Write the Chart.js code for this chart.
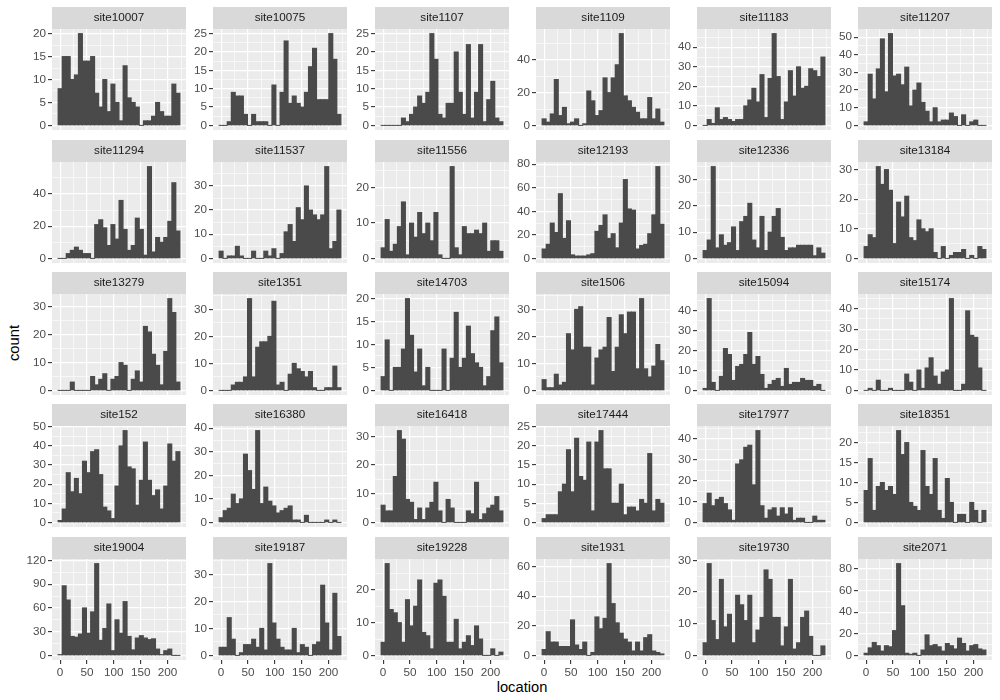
<!DOCTYPE html>
<html lang="en">
<head>
<meta charset="UTF-8">
<title>location by site</title>
<script src="https://cdn.jsdelivr.net/npm/chart.js@4.4.1/dist/chart.umd.min.js"></script>
<style>
    body {
        margin: 0;
        background: #ffffff;
        font-family: 'Liberation Sans', Arial, sans-serif;
    }
    #wrap {
        position: relative;
        width: 1000px;
        height: 700px;
        overflow: hidden;
    }
    #wrap canvas {
        position: absolute;
    }
    .axis-title {
        position: absolute;
        font-size: 14.7px;
        color: #000000;
        white-space: nowrap;
    }
    #xtitle {
        left: 472px;
        width: 100px;
        top: 679px;
        text-align: center;
    }
    #ytitle {
        left: -36px;
        width: 100px;
        top: 335px;
        text-align: center;
        transform: rotate(-90deg);
    }
</style>
</head>
<body>
<div id="wrap">
    <div id="xtitle" class="axis-title">location</div>
    <div id="ytitle" class="axis-title">count</div>
</div>

<script>
    // bins (30 bins, shared by every facet)
    const binMids = [0, 7.56, 15.12, 22.68, 30.24, 37.8, 45.36, 52.92, 60.48, 68.04,
                     75.6, 83.16, 90.72, 98.28, 105.84, 113.4, 120.96, 128.52, 136.08, 143.64,
                     151.2, 158.76, 166.32, 173.88, 181.44, 189.0, 196.56, 204.12, 211.68, 219.24];
    const xMajor = [0, 50, 100, 150, 200];
    const xMinor = [25, 75, 125, 175, 225];
    const xLimits = [-15.1, 234.3];

    const sites = [
        'site10007', 'site10075', 'site1107', 'site1109', 'site11183', 'site11207',
        'site11294', 'site11537', 'site11556', 'site12193', 'site12336', 'site13184',
        'site13279', 'site1351', 'site14703', 'site1506', 'site15094', 'site15174',
        'site152', 'site16380', 'site16418', 'site17444', 'site17977', 'site18351',
        'site19004', 'site19187', 'site19228', 'site1931', 'site19730', 'site2071'
    ];
    // major break spacing on each y axis
    const yStep = [5, 5, 5, 20, 10, 10,
                   20, 10, 10, 20, 10, 10,
                   10, 10, 5, 10, 10, 10,
                   10, 10, 10, 5, 10, 5,
                   30, 10, 10, 20, 10, 20];

    // counts per bin
    const site10007 = [8,15,15,10,11,20,14,14,15,7,4,10,3,9,5,1,13,6,5,4,0,1,1,2,5,3,2,2,9,7];
    const site10075 = [0,0,1,9,8,8,3,0,3,1,1,1,0,11,0,9,23,6,8,6,5,9,16,21,7,7,7,25,18,3];
    const site1107  = [0,0,0,0,0,2,1,3,5,8,6,9,25,18,3,2,6,6,20,9,3,22,2,9,22,1,7,12,2,1];
    const site1109  = [4,2,7,28,6,11,1,2,4,0,1,21,15,6,9,29,20,29,37,56,18,15,11,8,4,4,17,4,10,2];
    const site11183 = [0,3,1,9,3,4,3,2,3,3,10,13,19,12,26,4,24,47,25,3,12,28,15,30,19,20,29,28,25,35];
    const site11207 = [2,29,15,32,49,19,52,28,29,23,33,11,20,24,13,8,2,10,2,3,3,7,5,0,6,0,2,3,0,0];

    const site11294 = [0,0,3,5,7,5,3,3,0,21,24,19,8,21,12,36,18,5,8,25,18,2,57,4,13,10,13,23,47,17];
    const site11537 = [3,0,1,1,5,1,0,0,3,0,0,3,1,4,0,2,11,14,7,21,16,30,20,18,16,18,38,4,7,20];
    const site11556 = [3,11,2,4,9,16,1,10,6,13,7,10,5,13,1,0,0,26,3,1,9,7,7,8,7,10,2,5,5,2];
    const site12193 = [8,12,30,22,55,17,32,3,2,2,2,3,4,23,28,37,17,21,9,30,67,42,41,8,11,12,21,37,78,29];
    const site12336 = [3,7,35,4,9,5,6,12,3,14,16,21,7,4,16,3,10,16,19,8,3,4,4,5,5,5,5,1,4,2];
    const site13184 = [4,8,7,31,25,30,23,5,19,14,21,7,6,13,10,9,10,2,0,4,0,1,2,2,3,0,1,0,4,3];

    const site13279 = [0,0,0,3,0,0,0,0,5,2,4,6,0,4,5,10,9,0,4,7,3,23,21,13,9,2,14,33,28,3];
    const site1351  = [0,0,0,2,3,3,5,34,5,16,18,18,20,33,2,3,0,6,10,8,7,5,7,1,0,0,1,1,9,1];
    const site14703 = [3,11,0,5,5,9,20,12,4,9,1,5,0,0,0,9,0,7,17,5,7,14,8,6,5,1,3,13,16,6];
    const site1506  = [4,1,1,6,2,3,21,15,30,31,16,16,2,12,15,16,27,7,16,28,21,29,29,8,34,8,5,9,17,11];
    const site15094 = [1,46,4,0,7,21,18,5,12,13,18,29,13,17,8,1,3,5,6,2,11,3,4,4,6,5,5,2,3,0];
    const site15174 = [0,1,0,5,0,0,1,0,0,0,8,4,0,10,1,11,16,7,3,9,10,45,0,0,3,39,27,26,11,0];

    const site152   = [1,7,26,16,23,15,32,26,37,38,25,8,6,2,19,40,48,29,28,9,22,42,22,14,17,7,19,41,32,37];
    const site16380 = [2,5,6,12,8,10,29,22,14,39,8,15,9,7,4,5,6,7,1,1,0,3,0,0,0,0,1,0,1,0];
    const site16418 = [6,4,4,16,32,29,8,7,1,5,1,5,7,14,4,0,8,5,0,0,0,4,3,14,1,3,5,6,9,4];
    const site17444 = [1,2,2,2,8,10,19,8,22,12,11,21,3,21,24,14,14,5,5,10,2,4,4,3,6,5,18,3,6,5];
    const site17977 = [9,14,8,11,12,9,6,1,28,30,36,37,18,44,8,2,6,7,3,7,4,7,1,2,2,0,0,3,1,1];
    const site18351 = [8,16,3,9,10,8,9,7,23,17,20,5,4,3,18,9,7,16,3,1,11,5,0,2,2,0,5,3,0,3];

    const site19004 = [1,88,70,24,23,27,60,28,55,116,19,34,65,6,45,28,68,24,7,22,25,22,20,21,8,1,6,8,0,0];
    const site19187 = [3,3,14,6,0,1,4,4,6,3,10,2,34,12,6,3,2,2,10,1,4,3,0,4,5,26,12,2,23,7];
    const site19228 = [4,28,14,13,10,4,17,9,15,23,7,6,2,22,23,18,4,4,11,2,4,6,3,9,5,0,0,2,0,1];
    const site1931  = [4,16,9,9,6,6,6,24,7,4,9,0,2,26,18,25,62,35,22,15,11,9,3,9,3,12,14,3,2,1];
    const site19730 = [4,29,11,5,24,9,13,4,19,16,11,19,4,8,12,27,24,12,12,3,9,24,2,4,12,14,6,0,0,3];
    const site2071  = [2,7,12,9,4,9,8,23,85,46,2,1,2,0,5,19,9,10,8,4,11,9,6,16,11,4,9,10,6,5];

    const counts = [
        site10007, site10075, site1107, site1109, site11183, site11207,
        site11294, site11537, site11556, site12193, site12336, site13184,
        site13279, site1351, site14703, site1506, site15094, site15174,
        site152, site16380, site16418, site17444, site17977, site18351,
        site19004, site19187, site19228, site1931, site19730, site2071
    ];

    // layout of the facet grid
    const colLeft = [52, 213, 375, 536, 697, 858];
    const rowTop = [7, 140, 272, 404, 537];
    const PANEL_W = 134;
    const PANEL_H = 101;
    const STRIP_H = 22;
    const YAXIS_W = 44;
    const XAXIS_H = 20;
    const FONT = "'Liberation Sans', Arial, sans-serif";

    // grey panel + strip behind everything
    const panelBg = {
        id: 'panelBg',
        beforeDraw(chart) {
            const { ctx, chartArea: a } = chart;
            ctx.save();
            ctx.fillStyle = '#EBEBEB';
            ctx.fillRect(a.left, a.top, a.right - a.left, a.bottom - a.top);
            ctx.fillStyle = '#D9D9D9';
            ctx.fillRect(a.left, 0, a.right - a.left, STRIP_H);
            ctx.restore();
        }
    };

    function yTicks(max, step) {
        const lo = -0.05 * max, hi = 1.05 * max;
        const ticks = [];
        for (let v = 0; v <= hi; v += step) ticks.push({ value: v, isMajor: true });
        for (let v = step / 2; v <= hi; v += step) ticks.push({ value: v, isMajor: false });
        return ticks.filter(t => t.value >= lo).sort((a, b) => a.value - b.value);
    }

    // keep the plot area exactly where the grid says
    function noPad(s) {
        s.paddingLeft = 0;
        s.paddingRight = 0;
        s.paddingTop = 0;
        s.paddingBottom = 0;
    }

    const wrap = document.getElementById('wrap');

    sites.forEach((site, i) => {
        const row = Math.floor(i / 6);
        const col = i % 6;
        const bottomRow = row === 4;
        const vals = counts[i];
        const maxCount = Math.max(...vals);

        const canvas = document.createElement('canvas');
        canvas.width = YAXIS_W + PANEL_W;
        canvas.height = STRIP_H + PANEL_H + (bottomRow ? XAXIS_H : 0);
        canvas.style.left = (colLeft[col] - YAXIS_W) + 'px';
        canvas.style.top = rowTop[row] + 'px';
        wrap.appendChild(canvas);

        new Chart(canvas, {
            type: 'bar',
            data: {
                datasets: [{
                    data: binMids.map((m, k) => ({ x: m, y: vals[k] })),
                    backgroundColor: '#4A4A4A',
                    borderWidth: 0,
                    inflateAmount: 0.5,
                    barPercentage: 1,
                    categoryPercentage: 1
                }]
            },
            options: {
                responsive: false,
                animation: false,
                events: [],
                layout: { padding: 0, autoPadding: false },
                plugins: {
                    legend: { display: false },
                    tooltip: { enabled: false },
                    title: {
                        display: true,
                        text: site,
                        fullSize: false,
                        color: '#1A1A1A',
                        font: { family: FONT, size: 11.7, weight: 'normal', lineHeight: '14px' },
                        padding: { top: 4, bottom: 4 }
                    }
                },
                scales: {
                    x: {
                        type: 'linear',
                        offset: false,
                        min: xLimits[0],
                        max: xLimits[1],
                        afterBuildTicks: s => {
                            s.ticks = xMajor.map(v => ({ value: v, isMajor: true }))
                                .concat(xMinor.map(v => ({ value: v, isMajor: false })))
                                .sort((a, b) => a.value - b.value);
                        },
                        afterFit: s => { s.height = bottomRow ? XAXIS_H : 0; noPad(s); },
                        border: { display: false },
                        grid: {
                            offset: false,
                            color: '#FFFFFF',
                            lineWidth: c => (c.tick && c.tick.isMajor ? 1.2 : 0.6),
                            drawTicks: bottomRow,
                            tickLength: 4,
                            tickWidth: 1.1,
                            tickColor: c => (c.tick && c.tick.isMajor ? '#333333' : 'rgba(0,0,0,0)')
                        },
                        ticks: {
                            display: bottomRow,
                            autoSkip: false,
                            maxRotation: 0,
                            padding: 2,
                            color: '#4D4D4D',
                            font: { family: FONT, size: 11.7 },
                            callback: v => (xMajor.includes(v) ? String(v) : '')
                        }
                    },
                    y: {
                        type: 'linear',
                        min: -0.05 * maxCount,
                        max: 1.05 * maxCount,
                        afterBuildTicks: s => { s.ticks = yTicks(maxCount, yStep[i]); },
                        afterFit: s => { s.width = YAXIS_W; noPad(s); },
                        border: { display: false },
                        grid: {
                            color: '#FFFFFF',
                            lineWidth: c => (c.tick && c.tick.isMajor ? 1.2 : 0.6),
                            tickLength: 4,
                            tickWidth: 1.1,
                            tickColor: c => (c.tick && c.tick.isMajor ? '#333333' : 'rgba(0,0,0,0)')
                        },
                        ticks: {
                            autoSkip: false,
                            padding: 2,
                            color: '#4D4D4D',
                            font: { family: FONT, size: 11.7 },
                            callback: (v, idx, ticks) => (ticks[idx].isMajor ? String(v) : '')
                        }
                    }
                }
            },
            plugins: [panelBg]
        });
    });
</script>
</body>
</html>
